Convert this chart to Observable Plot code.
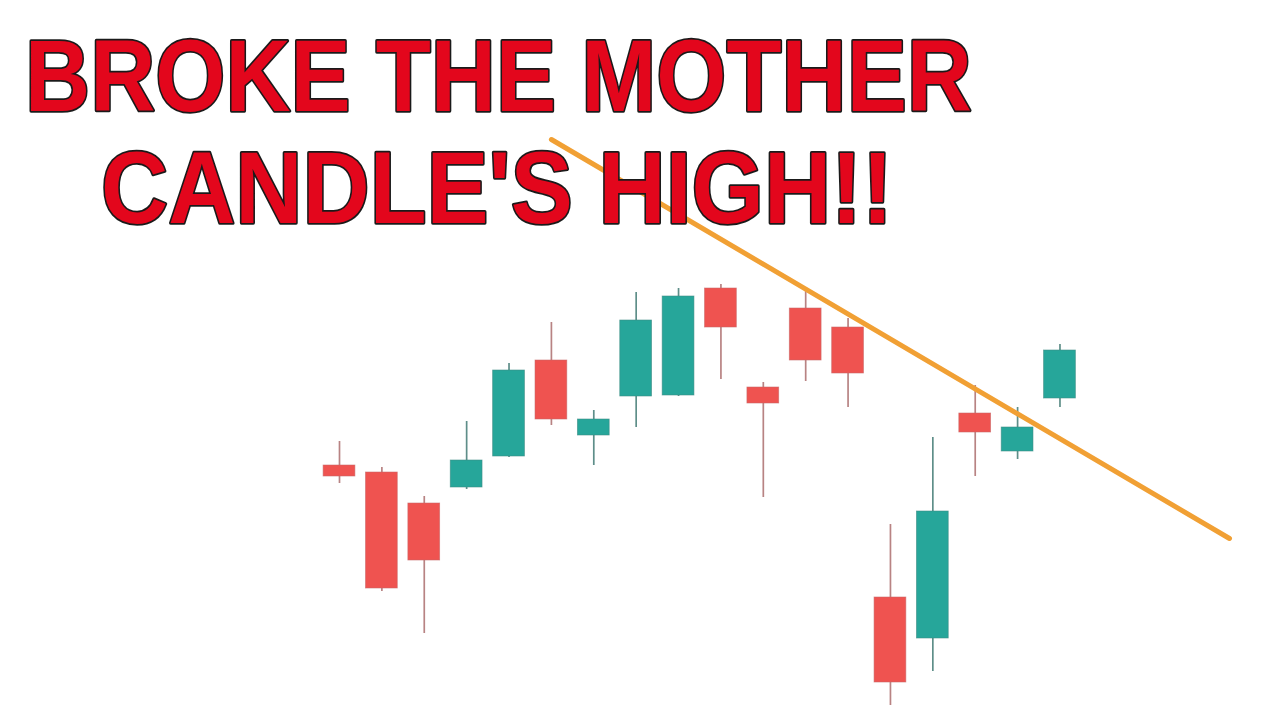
<!DOCTYPE html>
<html>
<head>
<meta charset="utf-8">
<script src="https://cdn.jsdelivr.net/npm/d3@7"></script>
<script src="https://cdn.jsdelivr.net/npm/@observablehq/plot@0.6"></script>
<style>
  html, body { margin: 0; padding: 0; background: #fff; }
  #wrap { position: relative; width: 1280px; height: 720px; overflow: hidden; }
  #chart { position: absolute; left: 0; top: 0; }
  #title { position: absolute; left: 0; top: 0; pointer-events: none; overflow: visible; }
</style>
</head>
<body>
<div id="wrap">
  <div id="chart"></div>
  <svg id="title" width="1280" height="250"></svg>
</div>
<script>
// Candle data (arbitrary price units), one entry per candle
const opens  = [25.5, 24.8, 21.7, 23.3, 26.4, 36.0, 28.5, 32.4, 32.5, 43.2, 33.3, 41.2, 39.3, 12.3,  8.2, 30.7, 26.9, 32.2];
const highs  = [27.9, 25.3, 22.4, 29.9, 35.7, 39.8, 31.0, 42.8, 43.2, 43.6, 33.8, 43.2, 40.2, 19.6, 28.3, 33.5, 31.3, 37.6];
const lows   = [23.7, 12.9,  8.7, 23.1, 26.3, 29.5, 25.5, 29.3, 32.4, 34.1, 22.3, 33.9, 31.3,  1.5,  4.9, 24.4, 26.1, 31.3];
const closes = [24.4, 13.2, 16.0, 26.0, 35.0, 30.1, 30.1, 40.0, 42.4, 39.3, 31.7, 36.0, 34.7,  3.8, 20.9, 28.8, 29.3, 37.0];

// Trend line (candle index, price)
const trendX = [5, 21];
const trendY = [58.1, 18.2];

const titleLines = ["BROKE THE MOTHER", "CANDLE'S HIGH!!"];

const UP = "#26A69A", DOWN = "#EF5350";
const UP_WICK = "#5E8E89", DOWN_WICK = "#B88383";

const candles = opens.map((o, i) => ({
  i, open: o, high: highs[i], low: lows[i], close: closes[i], up: closes[i] >= o
}));
const trend = trendX.map((x, k) => ({x, y: trendY[k]}));

const BW = 0.375;
const plot = Plot.plot({
  width: 1280,
  height: 720,
  marginLeft: 339,
  marginRight: 51,
  marginTop: 0,
  marginBottom: 0,
  x: {domain: [0, 21], axis: null},
  y: {domain: [0, 72], axis: null},
  color: {type: "identity"},
  style: {background: "white"},
  marks: [
    Plot.ruleX(candles, {x: "i", y1: "low", y2: "high",
      stroke: d => d.up ? UP_WICK : DOWN_WICK, strokeWidth: 1.7}),
    Plot.rectY(candles, {
      x1: d => d.i - BW, x2: d => d.i + BW,
      y1: "open", y2: "close",
      fill: d => d.up ? UP : DOWN,
      stroke: d => d.up ? "#3E8C84" : "#C96A6A", strokeWidth: 0.8, strokeOpacity: 0.7
    }),
    Plot.line(trend, {x: "x", y: "y", stroke: "#F1A034", strokeWidth: 5, strokeLinecap: "round"})
  ]
});
document.getElementById("chart").appendChild(plot);

// Title overlay: one text element, two lines
const svg = d3.select("#title");
const specs = [
  {text: titleLines[0], x: 25, y: 111, w: 947},
  {text: titleLines[1], x: 101, y: 223, w: 792}
];
const t = svg.append("text")
  .attr("font-family", "'Liberation Sans Narrow', 'Liberation Sans', Arial, sans-serif")
  .attr("font-weight", 700)
  .attr("font-size", 102)
  .attr("fill", "#E3061C")
  .attr("stroke", "#1a1a1a")
  .attr("stroke-width", 3.5)
  .attr("stroke-linejoin", "round")
  .attr("paint-order", "stroke");
for (const s of specs) {
  t.append("tspan")
    .attr("x", s.x).attr("y", s.y)
    .attr("textLength", s.w)
    .attr("lengthAdjust", "spacingAndGlyphs")
    .text(s.text);
}
</script>
</body>
</html>
